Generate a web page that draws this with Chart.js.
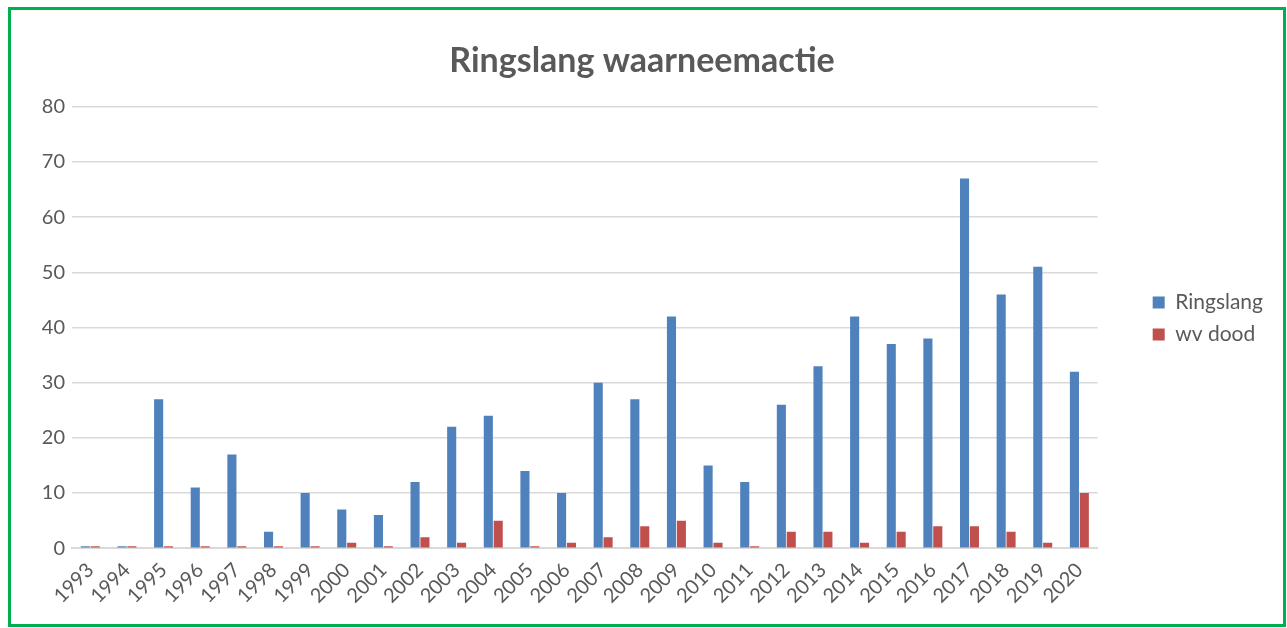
<!DOCTYPE html>
<html>
<head>
<meta charset="utf-8">
<script src="https://cdn.jsdelivr.net/npm/chart.js@4.4.1/dist/chart.umd.min.js"></script>
<style>
  html, body { margin: 0; padding: 0; background: #fff; }
  #kader {
    position: absolute; left: 8px; top: 7px;
    width: 1272px; height: 614px;
    border: 3px solid #00b050;
  }
</style>
</head>
<body>
<div id="kader"><canvas id="grafiek" width="1272" height="614"></canvas></div>
<script>
const jaren = ['1993','1994','1995','1996','1997','1998','1999','2000','2001','2002','2003','2004','2005','2006','2007','2008','2009','2010','2011','2012','2013','2014','2015','2016','2017','2018','2019','2020'];
const ringslang = [0, 0, 27, 11, 17, 3, 10, 7, 6, 12, 22, 24, 14, 10, 30, 27, 42, 15, 12, 26, 33, 42, 37, 38, 67, 46, 51, 32];
const wvDood = [0, 0, 0, 0, 0, 0, 0, 1, 0, 2, 1, 5, 0, 1, 2, 4, 5, 1, 0, 3, 3, 1, 3, 4, 4, 3, 1, 10];

const grijs = '#595959';

new Chart(document.getElementById('grafiek'), {
  type: 'bar',
  data: {
    labels: jaren,
    datasets: [
      { label: 'Ringslang', data: ringslang, backgroundColor: '#4f81bd' },
      { label: 'wv dood', data: wvDood, backgroundColor: '#c0504d' }
    ]
  },
  options: {
    responsive: false,
    animation: false,
    categoryPercentage: 0.54,
    barPercentage: 0.92,
    minBarLength: 2,
    layout: { padding: { left: 0, right: 10, top: 0, bottom: 14 } },
    plugins: {
      title: {
        display: true,
        text: 'Ringslang waarneemactie',
        color: grijs,
        font: { family: 'Lato', size: 34, weight: 'bold' },
        padding: { top: 31, bottom: 25 }
      },
      legend: {
        position: 'right',
        title: { display: true, text: ' ', font: { size: 4 }, padding: 6 },
        labels: {
          color: grijs,
          font: { family: 'Lato', size: 21 },
          boxWidth: 12,
          boxHeight: 12,
          padding: 11
        }
      },
      tooltip: { enabled: false }
    },
    scales: {
      x: {
        grid: { display: false },
        border: { color: '#d9d9d9', width: 2 },
        ticks: {
          color: grijs,
          font: { family: 'Lato', size: 20 },
          autoSkip: false,
          maxRotation: 45,
          minRotation: 45,
          padding: 2
        }
      },
      y: {
        min: 0,
        max: 80,
        ticks: {
          stepSize: 10,
          color: grijs,
          font: { family: 'Lato', size: 20 },
          padding: 7
        },
        grid: { color: '#d9d9d9', lineWidth: 1.5, drawTicks: false },
        border: { display: false },
        afterFit: (schaal) => { schaal.width = 61; }
      },
      ruimte: {
        position: 'right',
        display: true,
        grid: { display: false },
        border: { display: false },
        ticks: { display: false },
        afterFit: (schaal) => { schaal.width = 44; }
      }
    }
  }
});
</script>
</body>
</html>
